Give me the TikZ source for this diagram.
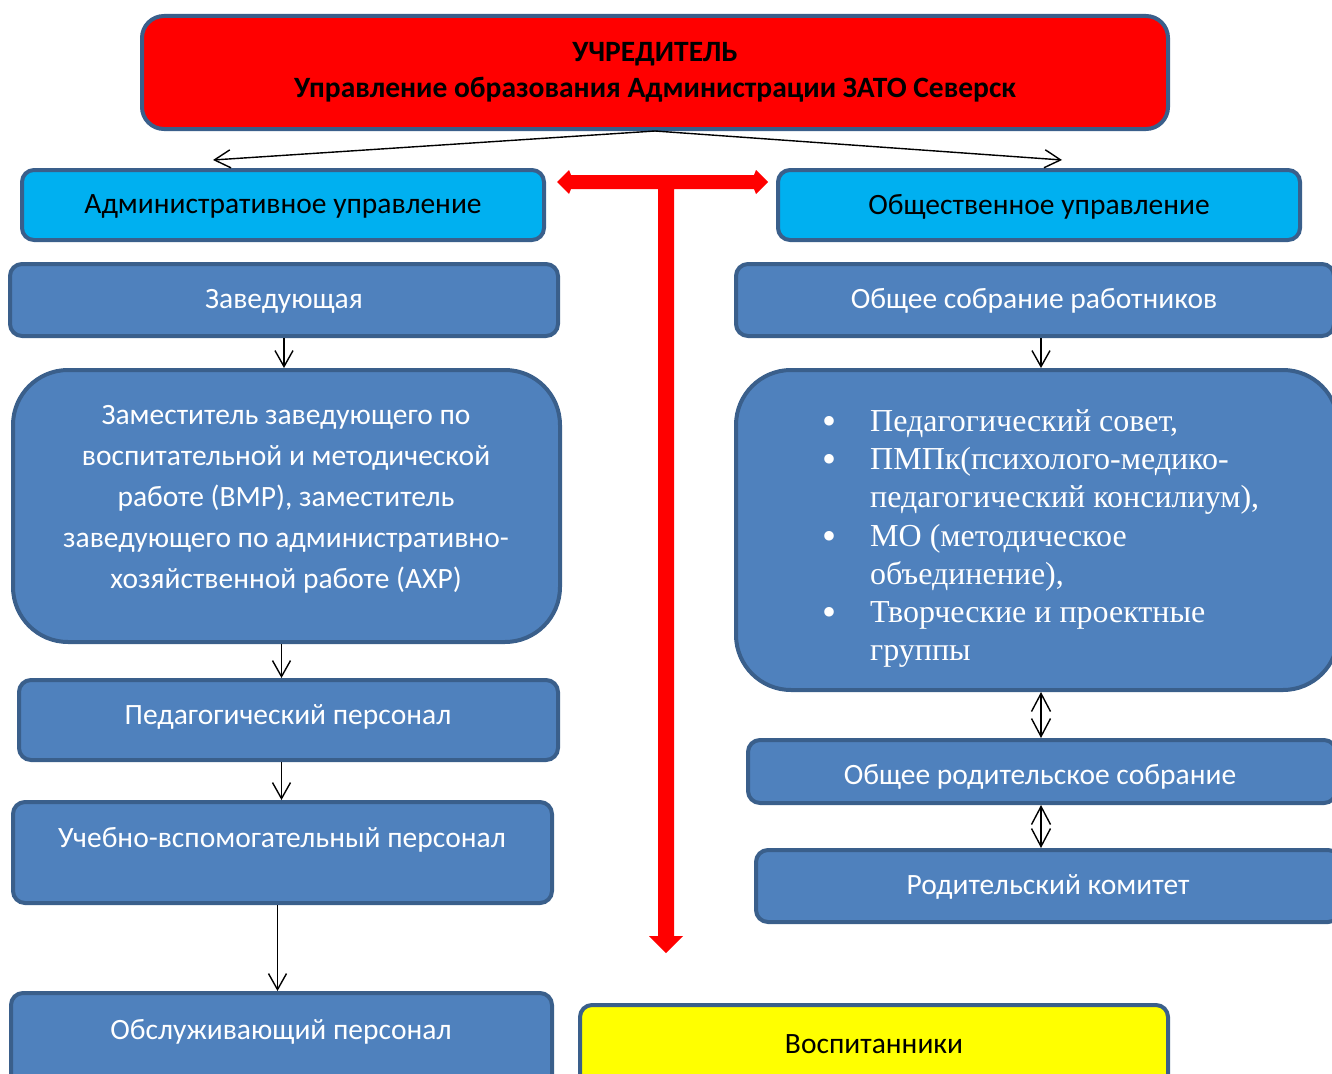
\documentclass[tikz,border=0pt]{standalone}
\usepackage{fontspec}
\usepackage{graphicx}
\setmainfont{Carlito}
\newfontfamily\serifru{Liberation Serif}
\usetikzlibrary{arrows.meta}
\definecolor{boxblue}{HTML}{4F81BD}
\definecolor{edgeblue}{HTML}{3A5F8B}
\definecolor{cyanbox}{HTML}{00B0F0}
\definecolor{redbox}{HTML}{FF0000}
\definecolor{yellowbox}{HTML}{FFFF00}
\newcommand{\bulletmark}{\makebox[51pt][l]{\hspace*{3pt}\raisebox{-3pt}{\scalebox{1.25}{•}}}}
\tikzset{
  box/.style={draw=edgeblue, line width=4pt, fill=boxblue, rounded corners=12pt,
    inner sep=0pt, text=white, font=\fontsize{29.5}{41}\selectfont, align=center},
  cyanb/.style={box, fill=cyanbox, text=black},
  txt/.style={inner sep=0pt, text=white, font=\fontsize{29.5}{41}\selectfont, align=center},
  arr/.style={draw=black, line width=1.4pt, -{Straight Barb[length=16pt,width=18pt]}},
  darr/.style={draw=black, line width=1.4pt, {Straight Barb[length=18pt,width=19pt]}-{Straight Barb[length=18pt,width=19pt]}},
}
\begin{document}
\begin{tikzpicture}[x=1pt,y=-1pt]
\useasboundingbox (0,0) rectangle (1332,1073);
\clip (0,0) rectangle (1332,1073);

% founder
\node[box, fill=redbox, text=black, rounded corners=22pt, minimum width=1026pt, minimum height=113pt,
  font=\bfseries\fontsize{29.5}{36}\selectfont] (founder) at (655,72.5)
  {УЧРЕДИТЕЛЬ\\Управление образования Администрации ЗАТО Северск};

% level 1
\node[cyanb, minimum width=522pt, minimum height=70pt] (adm) at (283,205) {};
\node[txt, text=black] (admtxt) at (283,206.5) {Административное управление};
\node[cyanb, minimum width=522pt, minimum height=70pt] (pub) at (1039,205) {};
\node[txt, text=black] (pubtxt) at (1039,206.5) {Общественное управление};

% left column
\node[box, minimum width=548pt, minimum height=72pt] (zav) at (284,300) {};
\node[txt] (zavtxt) at (284,301) {Заведующая};
\node[box, rounded corners=55pt, minimum width=547pt, minimum height=272pt] (zam) at (286.5,506) {};
\node[txt] (zamtxt) at (286,499) {Заместитель заведующего по\\воспитательной и методической\\работе (ВМР), заместитель\\заведующего по административно-\\хозяйственной работе (АХР)};
\node[box, minimum width=539pt, minimum height=80pt] (ped) at (288.5,720) {};
\node[txt] (pedtxt) at (288,716.5) {Педагогический персонал};
\node[box, minimum width=539pt, minimum height=101pt] (ucheb) at (282.5,852.5) {};
\node[txt] (uchebtxt) at (282,839.5) {Учебно-вспомогательный персонал};
\node[box, minimum width=541pt, minimum height=120pt] (obsl) at (281.5,1053) {};
\node[txt] (obsltxt) at (281,1031.5) {Обслуживающий персонал};

% bottom middle
\node[box, fill=yellowbox, minimum width=588pt, minimum height=120pt] (vosp) at (874,1065) {};
\node[txt, text=black] (vosptxt) at (874,1044.5) {Воспитанники};

% right column
\node[box, minimum width=598pt, minimum height=72pt] (osr) at (1035,300) {};
\node[txt] (osrtxt) at (1034,301) {Общее собрание работников};
\node[box, rounded corners=55pt, minimum width=602pt, minimum height=320pt] (sovet) at (1037,530) {};
\node[inner sep=0pt, text=white, anchor=north west, align=left,
  font=\serifru\fontsize{32}{38.3}\selectfont] (sovettxt) at (819,409)
  {\bulletmark Педагогический совет,\\
   \bulletmark ПМПк(психолого-медико-\\
   \hspace*{51pt}педагогический консилиум),\\
   \bulletmark МО (методическое\\
   \hspace*{51pt}объединение),\\
   \bulletmark Творческие и проектные\\
   \hspace*{51pt}группы};
\node[box, minimum width=588pt, minimum height=63pt] (ors) at (1042,771.5) {};
\node[txt] (orstxt) at (1040,776.5) {Общее родительское собрание};
\node[box, minimum width=584pt, minimum height=72pt] (rk) at (1048,886) {};
\node[txt] (rktxt) at (1048,886.5) {Родительский комитет};

% connectors from founder
\coordinate (admtip) at (213,160);
\coordinate (pubtip) at (1062,160);
\draw[arr] (founder.south) -- (admtip);
\draw[arr] (founder.south) -- (pubtip);

% left chain
\draw[arr] (zav.south) -- (zav.south |- zam.north);
\draw[arr] ([xshift=-5pt]zam.south) -- ([xshift=-5pt]zam.south |- ped.north);
\draw[arr] ([xshift=-7pt]ped.south) -- ([xshift=-7pt]ped.south |- ucheb.north);
\draw[arr] ([xshift=-5pt]ucheb.south) -- ([xshift=-5pt]ucheb.south |- obsl.north);

% right chain
\draw[arr] ([xshift=6pt]osr.south) -- ([xshift=6pt]osr.south |- sovet.north);
\draw[darr] ([xshift=4pt]sovet.south) -- ([xshift=4pt]sovet.south |- ors.north);
\draw[darr] ([xshift=-1pt]ors.south) -- ([xshift=-1pt]ors.south |- rk.north);

% red T arrow
\fill[redbox] (557,182) -- (569,170) -- (571,175) -- (754,175) -- (756,170) -- (768,182)
  -- (756,194) -- (754,189) -- (674,189) -- (674,936) -- (683,936) -- (666,953)
  -- (649,936) -- (658,936) -- (658,189) -- (571,189) -- (569,194) -- cycle;
\end{tikzpicture}
\end{document}
